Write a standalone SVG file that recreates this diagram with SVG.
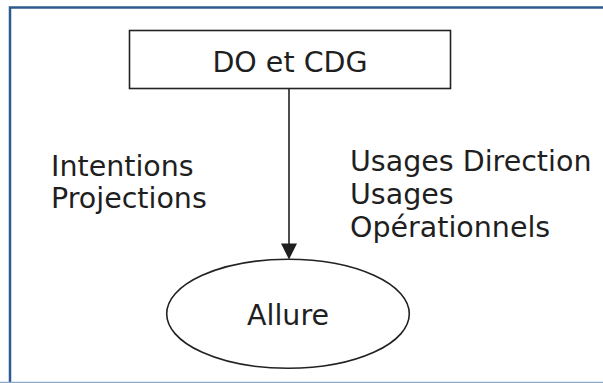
<svg xmlns="http://www.w3.org/2000/svg" width="603" height="383" viewBox="0 0 603 383">
<defs>
<style>
.t{font-family:"DejaVu Sans",Verdana,sans-serif;font-size:28.5px;fill:#1f1f1f}
.s{fill:#fff;stroke:#222;stroke-width:1.6}
</style>
<marker id="ah" markerWidth="16" markerHeight="16" refX="8" refY="16" orient="auto" markerUnits="userSpaceOnUse" viewBox="0 0 16 16">
<path d="M0,0 L16,0 L8,16 Z" fill="#1f1f1f" transform="rotate(-90 8 8)"/>
</marker>
</defs>
<rect x="0" y="0" width="603" height="383" fill="#fff"/>
<g id="frame">
<path d="M10,383 L10,7.5 L603,7.5" fill="none" stroke="#2e5b8f" stroke-width="2.5"/>
<line x1="0" y1="382.5" x2="603" y2="382.5" stroke="#8ea9c6" stroke-width="1.5"/>
</g>
<g id="connectors">
<line x1="289" y1="89" x2="289" y2="244" stroke="#222" stroke-width="1.6"/>
<path d="M281,243.5 L297,243.5 L289,259.5 Z" fill="#1f1f1f"/>
</g>
<g id="node-do">
<rect class="s" x="129.5" y="30.5" width="321" height="58"/>
<text class="t" x="290" y="72" text-anchor="middle">DO et CDG</text>
</g>
<g id="node-allure">
<ellipse class="s" cx="288" cy="313.8" rx="121.3" ry="54.5"/>
<text class="t" x="288" y="325" text-anchor="middle">Allure</text>
</g>
<g id="label-left">
<text class="t" x="51" y="176">Intentions</text>
<text class="t" x="51" y="208">Projections</text>
</g>
<g id="label-right">
<text class="t" x="350" y="171">Usages Direction</text>
<text class="t" x="350" y="204">Usages</text>
<text class="t" x="350" y="237">Opérationnels</text>
</g>
</svg>
